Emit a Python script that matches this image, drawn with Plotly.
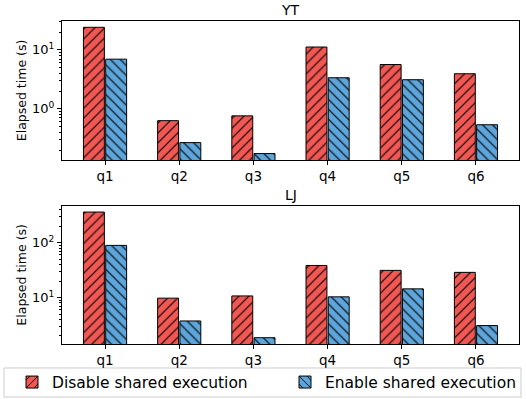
import math
import plotly.graph_objects as go
from plotly.subplots import make_subplots

# Queries and elapsed times (seconds) for the two datasets
queries = ["q1", "q2", "q3", "q4", "q5", "q6"]
yt_disable = [24.2, 0.63, 0.76, 11.2, 5.65, 3.94]
yt_enable = [6.97, 0.267, 0.174, 3.37, 3.12, 0.537]
lj_disable = [363, 9.75, 10.7, 38.5, 31.3, 28.8]
lj_enable = [89.4, 3.74, 1.85, 10.3, 14.4, 3.08]

series_names = ["Disable shared execution", "Enable shared execution"]
RED = "#F15854"
BLUE = "#5DA5DA"
FONT = "DejaVu Sans"

fig = make_subplots(rows=2, cols=1, vertical_spacing=0.14)

panels = [(1, "YT", yt_disable, yt_enable), (2, "LJ", lj_disable, lj_enable)]
for row, title, dis, ena in panels:
    for name, vals, color, shape, leg in [
        (series_names[0], dis, RED, "/", "legend"),
        (series_names[1], ena, BLUE, "\\", "legend2"),
    ]:
        fig.add_trace(
            go.Bar(
                x=queries,
                y=vals,
                name=name,
                showlegend=(row == 1),
                legend=leg,
                legendgroup=name,
                marker=dict(
                    color=color,
                    line=dict(color="black", width=1),
                    pattern=dict(shape=shape, fgcolor="black", bgcolor=color,
                                 size=7, solidity=0.16, fillmode="replace"),
                ),
            ),
            row=row, col=1,
        )
    # log range with 5% padding around the data, like an autoscaled log axis
    allv = dis + ena
    lo, hi = math.log10(min(allv)), math.log10(max(allv))
    pad = 0.05 * (hi - lo)
    dlo, dhi = math.floor(lo - pad), math.ceil(hi + pad)
    major_vals = [10 ** d for d in range(dlo, dhi + 1)]
    major_text = [f"10<sup>{d}</sup>" for d in range(dlo, dhi + 1)]
    minor_vals = [m * 10 ** d for d in range(dlo, dhi) for m in range(2, 10)]
    fig.update_yaxes(
        type="log", range=[lo - pad, hi + pad], automargin=False,
        tickmode="array", tickvals=major_vals, ticktext=major_text,
        showgrid=False, zeroline=False,
        showline=True, mirror=True, linecolor="black", linewidth=1,
        ticks="outside", ticklen=4, tickwidth=1, tickcolor="black",
        minor=dict(tickvals=minor_vals, ticks="outside", ticklen=2,
                   tickwidth=0.8, tickcolor="black", showgrid=False),
        title=dict(text="Elapsed time (s)", font=dict(size=12.5, family=FONT), standoff=2),
        tickfont=dict(size=13, family=FONT),
        row=row, col=1,
    )
    n = len(queries)
    fig.update_xaxes(
        range=[-0.3 - 0.05 * (n - 0.4), n - 0.7 + 0.05 * (n - 0.4)], automargin=False,
        showgrid=False, showline=True, mirror=True, linecolor="black", linewidth=1,
        ticks="outside", ticklen=4, tickwidth=1, tickcolor="black",
        tickfont=dict(size=13.5, family=FONT),
        row=row, col=1,
    )

legend_style = dict(
    orientation="h", xref="container", yref="container",
    y=0.0414, yanchor="middle", xanchor="left",
    borderwidth=0, bgcolor="rgba(0,0,0,0)",
    font=dict(size=15.5, family=FONT),
)
fig.update_layout(
    width=526, height=399,
    margin=dict(l=62, r=7, t=21, b=55),
    paper_bgcolor="white", plot_bgcolor="white",
    barmode="group", bargap=0.4, bargroupgap=0.06,
    font=dict(family=FONT, color="black"),
    legend=dict(x=12 / 526, **legend_style),
    legend2=dict(x=285 / 526, **legend_style),
)
fig.update_yaxes(domain=[0.57, 1.0], row=1, col=1)
fig.update_yaxes(domain=[0.0, 0.428], row=2, col=1)

# frame around the two legend entries
fig.add_shape(type="rect", xref="paper", yref="paper",
              x0=-0.1269, x1=1.0044, y0=-0.1641, y1=-0.0743,
              line=dict(color="#cccccc", width=1), fillcolor="white", layer="below")

for title, ypos in [("YT", 1.0), ("LJ", 0.428)]:
    fig.add_annotation(text=title, xref="paper", yref="paper", x=0.5, y=ypos,
                       yshift=1, xanchor="center", yanchor="bottom", showarrow=False,
                       font=dict(size=14, family=FONT, color="black"))

fig.write_html("out.html")
